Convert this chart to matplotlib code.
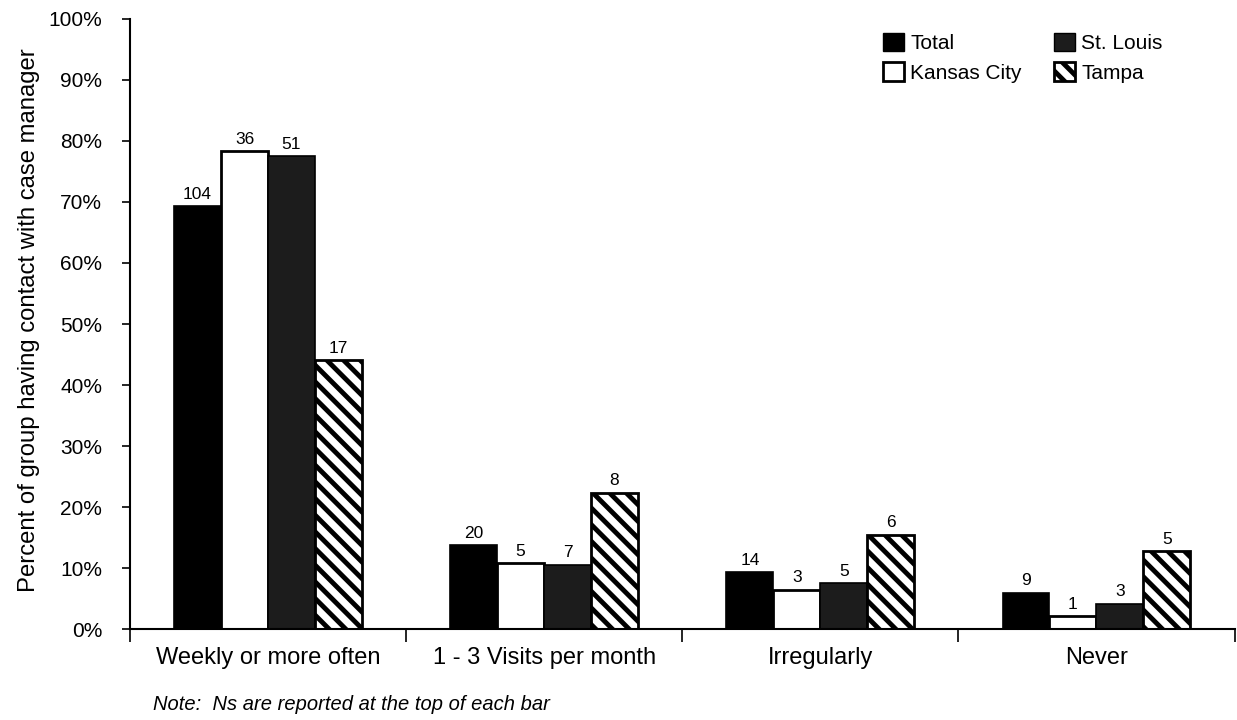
import matplotlib
matplotlib.use("Agg")
from matplotlib import pyplot as plt
from matplotlib import font_manager
from matplotlib.patches import Patch
import numpy as np

# data
categories = ["Weekly or more often", "1 - 3 Visits per month", "Irregularly", "Never"]
groups = ["Total", "Kansas City", "St. Louis", "Tampa"]
total_pct = [69.3, 13.8, 9.4, 6.0]
kansas_pct = [78.3, 10.8, 6.5, 2.1]
stlouis_pct = [77.5, 10.6, 7.6, 4.2]
tampa_pct = [44.1, 22.4, 15.5, 12.8]
total_n = [104, 20, 14, 9]
kansas_n = [36, 5, 3, 1]
stlouis_n = [51, 7, 5, 3]
tampa_n = [17, 8, 6, 5]
yticks = [0, 10, 20, 30, 40, 50, 60, 70, 80, 90, 100]

plt.rcParams['font.family'] = ['Liberation Sans', 'DejaVu Sans']
plt.rcParams['hatch.linewidth'] = 3.5

# the y label in the original is a condensed face
names = {f.name for f in font_manager.fontManager.ttflist}
if 'Liberation Sans Narrow' in names:
    ylab_font = dict(family=['Liberation Sans Narrow', 'DejaVu Sans'], fontsize=21)
else:
    ylab_font = dict(fontsize=17.2)

fig = plt.figure(figsize=(12.37, 7.2), dpi=100)
ax = fig.add_axes([0.105, 0.126, 0.893, 0.848])

x = np.arange(len(categories))
w = 0.17

b1 = ax.bar(x - 1.5 * w, total_pct, w, color='black', edgecolor='black', linewidth=1.2)
b2 = ax.bar(x - 0.5 * w, kansas_pct, w, color='white', edgecolor='black', linewidth=2)
b3 = ax.bar(x + 0.5 * w, stlouis_pct, w, color='#1c1c1c', edgecolor='black', linewidth=1.2)
b4 = ax.bar(x + 1.5 * w, tampa_pct, w, color='white', edgecolor='black', linewidth=2,
            hatch='\\\\')

for bars, ns in [(b1, total_n), (b2, kansas_n), (b3, stlouis_n), (b4, tampa_n)]:
    ax.bar_label(bars, labels=[str(n) for n in ns], padding=3, fontsize=12.5)

ax.set_xlim(-0.5, len(categories) - 0.5)
ax.set_ylim(0, 100)
ax.set_yticks(yticks)
ax.set_yticklabels([f"{t}%" for t in yticks], fontsize=15)
ax.set_xticks(x)
ax.set_xticklabels(categories, fontsize=17)
ax.set_xticks(np.arange(len(categories) + 1) - 0.5, minor=True)
ax.tick_params(axis='x', which='major', length=0, pad=13)
ax.tick_params(axis='x', which='minor', length=9, width=1.2, direction='out')
ax.tick_params(axis='y', length=6, width=1.2, direction='out', pad=14)
ax.set_ylabel("Percent of group having contact with case manager", **ylab_font)
ax.yaxis.set_label_coords(-0.0815, 0.507)

for s in ['top', 'right']:
    ax.spines[s].set_visible(False)
for s in ['left', 'bottom']:
    ax.spines[s].set_linewidth(1.5)

handles = [Patch(facecolor='black', edgecolor='black'),
           Patch(facecolor='white', edgecolor='black', linewidth=2),
           Patch(facecolor='#1c1c1c', edgecolor='black'),
           Patch(facecolor='white', edgecolor='black', linewidth=2, hatch='\\\\')]
ax.legend(handles, groups, ncol=2, loc='upper left', bbox_to_anchor=(0.665, 1.008),
          frameon=False, fontsize=15, handlelength=1.0, handleheight=1.0,
          handletextpad=0.3, columnspacing=1.55, labelspacing=0.45)

fig.text(153 / 1237, 1 - 705 / 720, "Note:  Ns are reported at the top of each bar",
         fontsize=14.5, style='italic', va='center')

fig.savefig("out.png", dpi=100)
